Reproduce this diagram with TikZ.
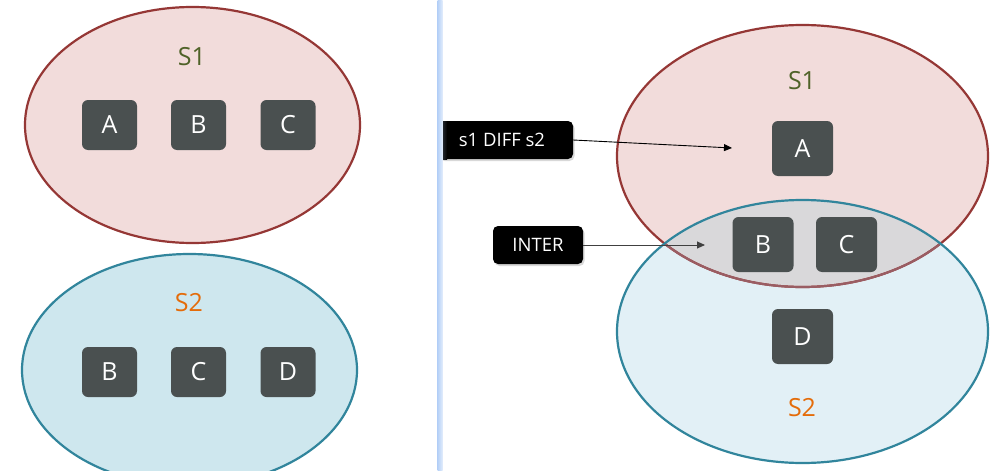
\documentclass[tikz,border=0pt]{standalone}
\usepackage{fontspec}
\setmainfont{Open Sans}
\usetikzlibrary{shadows,arrows.meta}
\definecolor{sonefill}{HTML}{F2DCDB}
\definecolor{sonedraw}{HTML}{953735}
\definecolor{soneinner}{HTML}{9A5D63}
\definecolor{stwofillA}{HTML}{CEE7EE}
\definecolor{stwofillB}{HTML}{E2F0F6}
\definecolor{stwodraw}{HTML}{31859C}
\definecolor{intergray}{HTML}{D9D8DA}
\definecolor{boxgray}{HTML}{4A5050}
\definecolor{olivelbl}{HTML}{4F6228}
\definecolor{orangelbl}{HTML}{E46C0A}
\definecolor{sepblue}{HTML}{B5D0F7}
\begin{document}
\begin{tikzpicture}[x=1pt,y=-1pt,
  elem/.style={fill=boxgray, rounded corners=6pt, text=white, inner sep=0pt,
    font=\fontsize{25}{25}\selectfont, minimum width=55pt, minimum height=50pt},
  bigelem/.style={elem, minimum width=61pt, minimum height=55pt},
  setlbl/.style={inner sep=0pt, font=\fontsize{25}{25}\selectfont},
  tag/.style={fill=black, text=white, rounded corners=5pt, inner sep=0pt,
    font=\fontsize{18.5}{18.5}\selectfont, minimum height=38pt,
    drop shadow={shadow xshift=1.5pt, shadow yshift=-2pt, opacity=0.3}},
  setline/.style={line width=2.2pt},
  conn/.style={-{Triangle[length=8pt,width=7pt]}, line width=0.9pt}]
\useasboundingbox (0,0) rectangle (1002,471);
\fill[white] (0,0) rectangle (1002,471);

% ---------- left panel ----------
\filldraw[setline, fill=sonefill, draw=sonedraw] (192.5,125) ellipse [x radius=167.5pt, y radius=118pt];
\filldraw[setline, fill=stwofillA, draw=stwodraw] (189.5,370) ellipse [x radius=167.5pt, y radius=116pt];

\node[setlbl, text=olivelbl] (ls1) at (192,57) {S1};
\node[setlbl, text=orangelbl] (ls2) at (189,303) {S2};

\node[elem] (la) at (109.5,125) {A};
\node[elem] (lb) at (198.5,125) {B};
\node[elem] (lc) at (288,125) {C};
\node[elem] (lb2) at (109.5,372) {B};
\node[elem] (lc2) at (198.5,372) {C};
\node[elem] (ld2) at (288,372) {D};

% ---------- right panel ----------
\fill[sonefill] (802.5,156) ellipse [x radius=185.5pt, y radius=131pt];
\fill[stwofillB] (802.5,331.5) ellipse [x radius=185.5pt, y radius=131.5pt];
\begin{scope}
  \clip (802.5,156) ellipse [x radius=185.5pt, y radius=131pt];
  \fill[intergray] (802.5,331.5) ellipse [x radius=185.5pt, y radius=131.5pt];
\end{scope}
\draw[setline, sonedraw] (802.5,156) ellipse [x radius=185.5pt, y radius=131pt];
\begin{scope}
  \clip (802.5,331.5) ellipse [x radius=185.5pt, y radius=131.5pt];
  \draw[setline, soneinner] (802.5,156) ellipse [x radius=185.5pt, y radius=131pt];
\end{scope}
\draw[setline, stwodraw] (802.5,331.5) ellipse [x radius=185.5pt, y radius=131.5pt];

\node[setlbl, text=olivelbl] (rs1) at (802,81) {S1};
\node[setlbl, text=orangelbl] (rs2) at (802,408) {S2};

\node[bigelem] (ra) at (802.5,148.5) {A};
\node[bigelem] (rb) at (763,244.5) {B};
\node[bigelem] (rc) at (846.5,244.5) {C};
\node[bigelem] (rd) at (802.5,336.5) {D};

% ---------- tags ----------
\node[tag, minimum width=135pt] (diff) at (505.5,140) {\hspace*{-7pt}s1 DIFF s2};
\node[tag, minimum width=90pt] (inter) at (538,245) {INTER};
\shade[left color=sepblue!30!black, right color=black] (440,121) rectangle (447,159);

\coordinate (diffend) at (732,148);
\coordinate (interend) at (705,245);
\draw[conn] (diff.east) -- (diffend);
\draw[conn, draw=black!75] (inter.east) -- (interend);

% ---------- separator ----------
\shade[left color=sepblue, right color=sepblue!40] (437.5,0) rectangle (442.5,471);
\end{tikzpicture}
\end{document}
